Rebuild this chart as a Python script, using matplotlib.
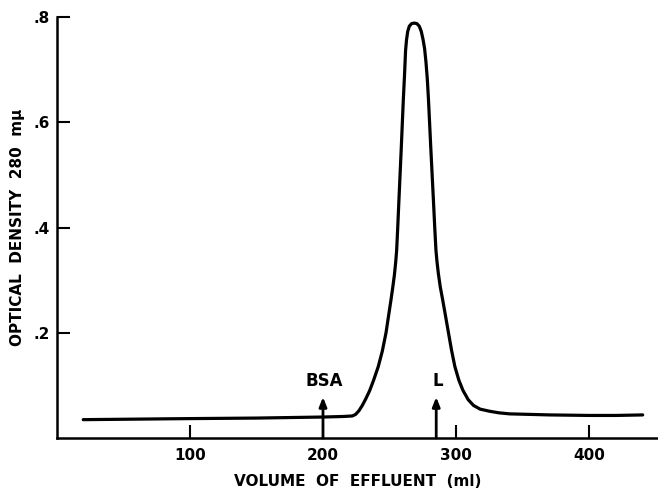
import matplotlib
matplotlib.use("Agg")
import matplotlib.pyplot as plt

# Elution profile (ml, optical density at 280 mμ)
volume_ml = [20, 60, 100, 150, 200, 215, 222, 224.5, 227, 229.5, 232, 235, 238, 241.5,
             244.5, 247.3, 249.2, 251, 252.3, 253.6, 254.6, 255.3, 256.1, 257.0, 258.7,
             260.3, 261.2, 262, 262.7, 263.6, 264.8, 266.5, 268.5, 270.5, 272.3,
             273.8, 275.1, 276.3, 277.3, 278.3, 279.2, 281, 282.9, 283.9, 284.8, 285.6,
             286.6, 288, 289.9, 292, 294, 296.5, 299, 302, 305, 309, 313, 318, 325, 332,
             340, 355, 370, 400, 420, 440]
optical_density = [0.035, 0.036, 0.037, 0.038, 0.040, 0.041, 0.042, 0.045, 0.052, 0.062,
                   0.074, 0.090, 0.110, 0.136, 0.165, 0.200, 0.232, 0.262, 0.285, 0.310,
                   0.335, 0.357, 0.400, 0.452, 0.548, 0.643, 0.690, 0.737, 0.757,
                   0.773, 0.783, 0.788, 0.789, 0.788, 0.783, 0.773, 0.758, 0.740, 0.715,
                   0.683, 0.643, 0.548, 0.452, 0.400, 0.357, 0.335, 0.313, 0.288, 0.262,
                   0.232, 0.203, 0.167, 0.136, 0.110, 0.091, 0.073, 0.062, 0.055, 0.051,
                   0.048, 0.046, 0.045, 0.044, 0.043, 0.043, 0.044]

x_ticks = [100, 200, 300, 400]
x_tick_labels = ["100", "200", "300", "400"]
y_ticks = [0.2, 0.4, 0.6, 0.8]
y_tick_labels = [".2", ".4", ".6", ".8"]

markers = ["BSA", "L"]
marker_volume = [200, 285]
arrow_top = 0.078
label_base = 0.091

fig = plt.figure(figsize=(6.58, 4.9), dpi=100)
ax = fig.add_axes([0.086, 0.106, 0.914, 0.8587])

ax.plot(volume_ml, optical_density, color="black", lw=2.3, solid_capstyle="round",
        solid_joinstyle="round")

for name, v in zip(markers, marker_volume):
    ax.annotate("", xy=(v, arrow_top), xytext=(v, 0.0),
                arrowprops=dict(arrowstyle="-|>,head_length=0.55,head_width=0.22",
                                color="black", lw=2.0, shrinkA=0, shrinkB=0))
    ax.text(v + 1, label_base, name, ha="center", va="bottom", fontsize=12,
            fontweight="bold", family="DejaVu Sans")

ax.set_xlim(0, 451.5)
ax.set_ylim(0, 0.8)
ax.spines["top"].set_visible(False)
ax.spines["right"].set_visible(False)
for s in ("left", "bottom"):
    ax.spines[s].set_linewidth(1.8)

ax.set_xticks(x_ticks)
ax.set_xticklabels(x_tick_labels)
ax.set_yticks(y_ticks)
ax.set_yticklabels(y_tick_labels)
ax.tick_params(direction="in", length=9.5, width=1.5, labelsize=11, colors="black")
ax.tick_params(axis="x", pad=7)
ax.tick_params(axis="y", pad=5)
for lab in ax.get_xticklabels() + ax.get_yticklabels():
    lab.set_fontweight("semibold")

ax.set_xlabel("VOLUME  OF  EFFLUENT  (ml)", fontsize=11, fontweight="bold", labelpad=8)
ax.set_ylabel("OPTICAL  DENSITY  280  mμ", fontsize=11, fontweight="bold", labelpad=6)

fig.savefig("out.png", dpi=100)
